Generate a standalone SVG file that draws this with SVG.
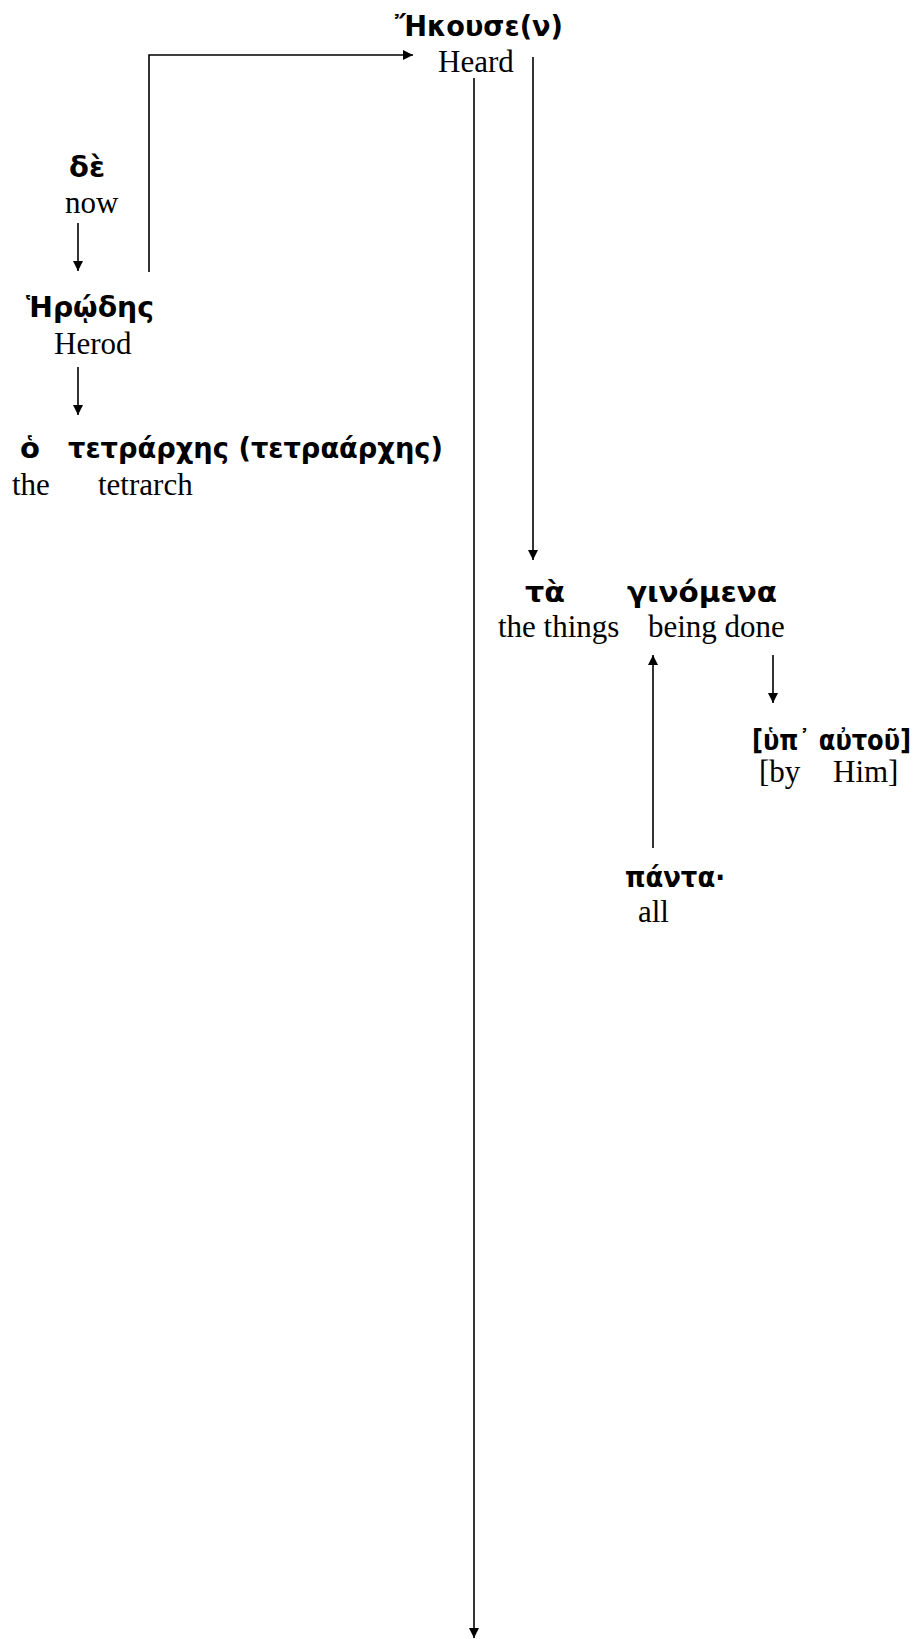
<svg xmlns="http://www.w3.org/2000/svg" width="920" height="1639" viewBox="0 0 920 1639">
<style>
.gr{font-family:"DejaVu Sans","Noto Sans",sans-serif;font-weight:bold;font-size:29px;fill:#000}
.en{font-family:"Liberation Serif","Times New Roman",serif;font-size:31px;fill:#000}
.ln{fill:none;stroke:#000;stroke-width:1.6}
</style>
<defs>
<marker id="ah" viewBox="0 0 10 10" refX="10" refY="5" markerWidth="10" markerHeight="10" markerUnits="userSpaceOnUse" orient="auto">
<path d="M0,0 L10,5 L0,10 Z" fill="#000"/>
</marker>
</defs>
<rect width="920" height="1639" fill="#fff"/>
<g id="connectors">
<polyline class="ln" points="149,272 149,55 413,55" marker-end="url(#ah)"/>
<line class="ln" x1="78" y1="223" x2="78" y2="271" marker-end="url(#ah)"/>
<line class="ln" x1="78" y1="367" x2="78" y2="415" marker-end="url(#ah)"/>
<line class="ln" x1="533" y1="57" x2="533" y2="560" marker-end="url(#ah)"/>
<line class="ln" x1="474" y1="78" x2="474" y2="1638" marker-end="url(#ah)"/>
<line class="ln" x1="773" y1="655" x2="773" y2="703" marker-end="url(#ah)"/>
<line class="ln" x1="653" y1="848" x2="653" y2="655" marker-end="url(#ah)"/>
</g>
<g id="node-ekouse">
<text class="gr" x="395" y="36" textLength="168" lengthAdjust="spacingAndGlyphs">Ἤκουσε(ν)</text>
<text class="en" x="438" y="72">Heard</text>
</g>
<g id="node-de">
<text class="gr" x="69" y="177" textLength="36" lengthAdjust="spacingAndGlyphs">δὲ</text>
<text class="en" x="65" y="213">now</text>
</g>
<g id="node-herodes">
<text class="gr" x="26" y="317" textLength="128" lengthAdjust="spacingAndGlyphs">Ἡρῴδης</text>
<text class="en" x="54" y="354">Herod</text>
</g>
<g id="node-tetrarches">
<text class="gr" x="20" y="458">ὁ</text>
<text class="gr" x="68" y="458" textLength="375" lengthAdjust="spacingAndGlyphs">τετράρχης (τετραάρχης)</text>
<text class="en" x="12" y="495">the</text>
<text class="en" x="98" y="495">tetrarch</text>
</g>
<g id="node-ginomena">
<text class="gr" x="525" y="602" textLength="40" lengthAdjust="spacingAndGlyphs">τὰ</text>
<text class="gr" x="627" y="602" textLength="150" lengthAdjust="spacingAndGlyphs">γινόμενα</text>
<text class="en" x="498" y="637">the things</text>
<text class="en" x="648" y="637">being done</text>
</g>
<g id="node-hyp-autou">
<text class="gr" x="752" y="750" textLength="159" lengthAdjust="spacingAndGlyphs">[ὑπ᾿ αὐτοῦ]</text>
<text class="en" x="759" y="782">[by</text>
<text class="en" x="833" y="782">Him]</text>
</g>
<g id="node-panta">
<text class="gr" x="625" y="887" textLength="100" lengthAdjust="spacingAndGlyphs">πάντα·</text>
<text class="en" x="638" y="922">all</text>
</g>
</svg>
